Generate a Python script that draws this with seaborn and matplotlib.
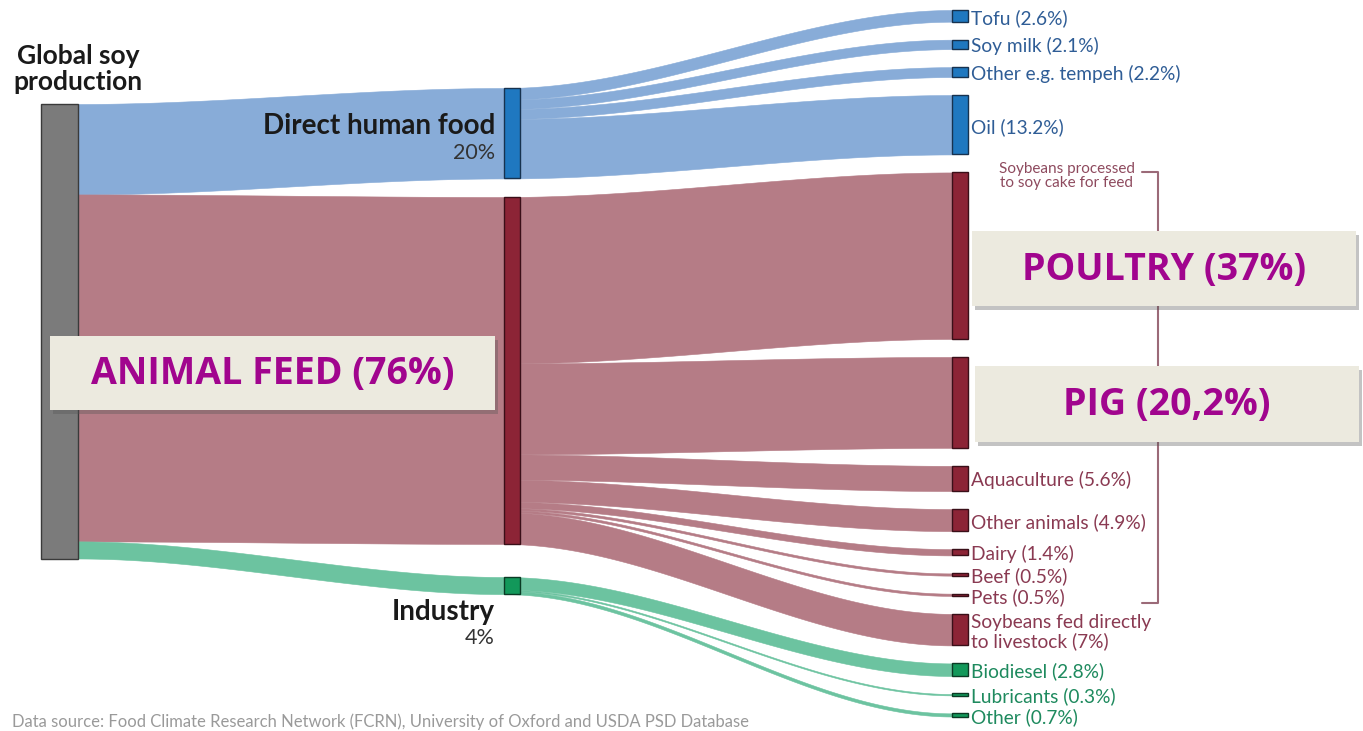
import numpy as np
import matplotlib
matplotlib.use("Agg")
import matplotlib.pyplot as plt
import seaborn as sns
from matplotlib.patches import Rectangle

# ---------------- data ----------------
source_label = "Global soy\nproduction"
mid_labels = ["Direct human food", "Animal feed", "Industry"]
mid_shares = [20, 76, 4]
food_items = ["Tofu", "Soy milk", "Other e.g. tempeh", "Oil"]
food_values = [2.6, 2.1, 2.2, 13.2]
feed_items = ["Poultry", "Pig", "Aquaculture", "Other animals", "Dairy", "Beef", "Pets",
              "Soybeans fed directly\nto livestock"]
feed_values = [37, 20.2, 5.6, 4.9, 1.4, 0.5, 0.5, 7]
industry_items = ["Biodiesel", "Lubricants", "Other"]
industry_values = [2.8, 0.3, 0.7]
highlight_labels = ["ANIMAL FEED (76%)", "POULTRY (37%)", "PIG (20,2%)"]
bracket_note = "Soybeans processed\nto soy cake for feed"
source_note = "Data source: Food Climate Research Network (FCRN), University of Oxford and USDA PSD Database"

groups_items = [food_items, feed_items, industry_items]
groups_values = [food_values, feed_values, industry_values]

# ---------------- style ----------------
sns.set_theme(style="white")
plt.rcParams['font.family'] = ['Lato', 'DejaVu Sans']

flow_colors = ["#88acd8", "#b57c86", "#6cc3a0"]
node_colors = ["#1f78c0", "#8c2436", "#12985a"]
edge_colors = ["#17324f", "#3a0f18", "#0b3b25"]
text_colors = ["#2f5d96", "#8a3a52", "#1e8a5e"]
PURPLE = "#a1058e"
BOXFILL = "#eceadf"

SCALE = 4.5          # pixels per percent
X_SRC = (41, 78)
X_MID = (504, 520)
X_END = (952, 968)
SRC_TOP = 104
MID_TOPS = [88, 197, 577]
END_TOP = 10
END_GAP = 18

fig = plt.figure(figsize=(13.63, 7.31), dpi=100)
ax = fig.add_axes([0, 0, 1, 1])
ax.set_xlim(0, 1363)
ax.set_ylim(731, 0)
ax.axis("off")


def flow(x0, x1, a0, b0, a1, b1, color):
    xs = np.linspace(x0, x1, 200)
    t = (xs - x0) / (x1 - x0)
    s = t * t * (3 - 2 * t)
    top = a0 + (a1 - a0) * s
    bot = b0 + (b1 - b0) * s
    ax.fill_between(xs, top, bot, color=color, lw=0.4, edgecolor=color, zorder=1)


def node(x, top, h, fc, ec, minh=2.5):
    hh = max(h, minh)
    y = top + (h - hh) / 2
    ax.add_patch(Rectangle((x[0], y), x[1] - x[0], hh, facecolor=fc, edgecolor=ec,
                           lw=1.0, zorder=3))


group_totals = [sum(v) for v in groups_values]

# source node
src_total = sum(group_totals)
ax.add_patch(Rectangle((X_SRC[0], SRC_TOP), X_SRC[1] - X_SRC[0], src_total * SCALE,
                       facecolor="#7b7b7b", edgecolor="#3a3a3a", lw=1.0, zorder=3))

# source -> mid flows
y_src = SRC_TOP
for g in range(3):
    h = group_totals[g] * SCALE
    flow(X_SRC[1], X_MID[0], y_src, y_src + h, MID_TOPS[g], MID_TOPS[g] + h, flow_colors[g])
    y_src += h

# mid nodes, mid -> end flows, end nodes
y_end = END_TOP
end_centers = []
for g in range(3):
    mt = MID_TOPS[g]
    y_mid = mt
    for item, v in zip(groups_items[g], groups_values[g]):
        h = v * SCALE
        flow(X_MID[0], X_END[0], y_mid, y_mid + h, y_end, y_end + h, flow_colors[g])
        node(X_END, y_end, h, node_colors[g], edge_colors[g])
        end_centers.append((g, item, v, y_end + h / 2))
        y_mid += h
        y_end += h + END_GAP
    node(X_MID, mt, group_totals[g] * SCALE, node_colors[g], edge_colors[g])

# end labels
for g, item, v, yc in end_centers:
    if item in ("Poultry", "Pig"):
        continue
    ax.text(X_END[1] + 3, yc + 2, f"{item} ({v:g}%)", color=text_colors[g], fontsize=13.8,
            ha="left", va="center", linespacing=1.08, zorder=5)

# source label
ax.text(78, 69, source_label, ha="center", va="center", fontsize=19, fontweight="bold",
        color="#1a1a1a", linespacing=1.05, zorder=5)

# mid labels
mid_label_y = [126, None, 612]
mid_share_y = [153, None, 638]
for g in (0, 2):
    ax.text(495, mid_label_y[g], mid_labels[g], ha="right", va="center", fontsize=20,
            fontweight="bold", color="#1a1a1a", zorder=5)
    ax.text(495, mid_share_y[g], f"{mid_shares[g]}%", ha="right", va="center", fontsize=15.5,
            color="#333333", zorder=5)

# bracket
ax.plot([1142, 1158, 1158, 1142], [172, 172, 603, 603], color="#9b6a78", lw=1.5, zorder=2)
ax.text(1067, 176, bracket_note, ha="center", va="center", fontsize=11, color="#8e4a5e",
        linespacing=0.95, zorder=5)

# highlight boxes
boxes = [(50, 336, 445, 74), (972, 231, 384, 75), (975, 366, 384, 76)]
for (bx, by, bw, bh), lab in zip(boxes, highlight_labels):
    ax.add_patch(Rectangle((bx + 3, by + 4), bw, bh, facecolor="#555555", alpha=0.35,
                           lw=0, zorder=6))
    ax.add_patch(Rectangle((bx, by), bw, bh, facecolor=BOXFILL, lw=0, zorder=7))
    ax.text(bx + bw / 2, by + bh / 2 + 1, lab, ha="center", va="center", fontsize=27,
            fontweight="bold", color=PURPLE, family=["Open Sans", "DejaVu Sans"], zorder=8)

# data source at the bottom edge
ax.text(12, 730, source_note, ha="left", va="bottom", fontsize=12, color="#9a9a9a", zorder=5)

fig.savefig("out.png", dpi=100)
